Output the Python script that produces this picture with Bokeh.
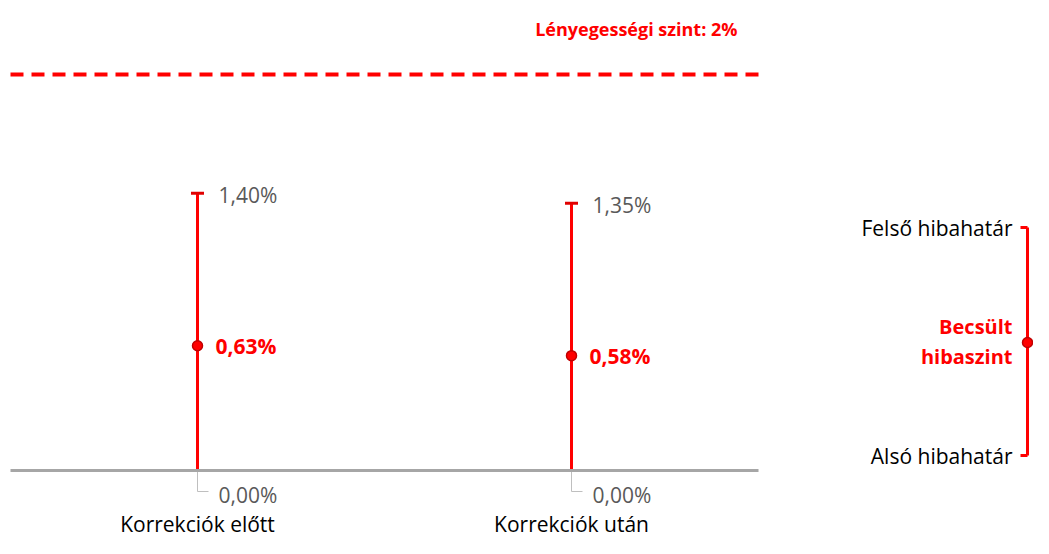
from bokeh.plotting import figure
from bokeh.models import Range1d
from bokeh.core.properties import value
from bokeh.embed import file_html
from bokeh.resources import INLINE

# ---- data ----
categories = ["Korrekciók előtt", "Korrekciók után"]
estimate = [0.63, 0.58]
upper = [1.40, 1.35]
lower = [0.00, 0.00]
threshold = 2.0
threshold_label = "Lényegességi szint: 2%"
legend_upper = "Felső hibahatár"
legend_mid = ["Becsült", "hibaszint"]
legend_lower = "Alsó hibahatár"


def fmt(v):
    return f"{v:.2f}%".replace(".", ",")


# ---- layout / scales ----
W, H = 1033, 538
PX_X = 374.0     # pixels per category unit
PX_Y = 198.0     # pixels per percent
LEFT = 10        # pixel where category axis starts
BASE = 470       # pixel (from top) of 0%

x0 = -LEFT / PX_X
x1 = (W - LEFT) / PX_X
y0 = -(H - BASE) / PX_Y
y1 = BASE / PX_Y


def dx(px):
    return px / PX_X


def dy(px):
    return px / PX_Y


def fx(px):  # figure pixel -> data x
    return x0 + px / PX_X


def fy(py):  # figure pixel from top -> data y
    return y1 - py / PX_Y


p = figure(width=W, height=H, x_range=Range1d(x0, x1), y_range=Range1d(y0, y1),
           output_backend="svg", toolbar_location=None, min_border=0,
           x_axis_type=None, y_axis_type=None, outline_line_color=None,
           background_fill_color="white", border_fill_color="white")
p.grid.visible = False

RED = "#FF0000"
GRAY_TXT = "#595959"
FONT = value("Open Sans")
n = len(categories)
xc = [i + 0.5 for i in range(n)]

# threshold dashed line
p.segment(x0=[0], y0=[threshold], x1=[n], y1=[threshold], line_color=RED,
          line_width=4, line_dash="13 8")
p.text(x=[n], y=[threshold], text=[threshold_label], text_font=FONT,
       text_font_size="18px", text_font_style="bold", text_color=RED,
       text_align="right", text_baseline="middle", x_offset=-21, y_offset=-46)

# error bars
p.segment(x0=xc, y0=lower, x1=xc, y1=upper, line_color=RED, line_width=3)
p.scatter(x=xc + xc, y=upper + lower, marker="dash", size=13,
          line_color="#E00000", line_width=3)
p.scatter(x=xc, y=estimate, marker="circle", size=10, fill_color=RED,
          line_color="#C00000", line_width=1.5)

# leader lines to 0 labels
p.multi_line(xs=[[c, c, c + dx(11)] for c in xc],
             ys=[[l, l - dy(21), l - dy(21)] for l in lower],
             line_color="#BFBFBF", line_width=1)

# baseline
p.segment(x0=[0], y0=[0], x1=[n], y1=[0], line_color="#A6A6A6", line_width=3)

# data labels
p.text(x=xc, y=upper, text=[fmt(v) for v in upper], text_font=FONT,
       text_font_size="21px", text_color=GRAY_TXT, text_align="left",
       text_baseline="middle", x_offset=21, y_offset=2)
p.text(x=xc, y=estimate, text=[fmt(v) for v in estimate], text_font=FONT,
       text_font_size="21px", text_font_style="bold", text_color=RED,
       text_align="left", text_baseline="middle", x_offset=18, y_offset=0)
p.text(x=xc, y=lower, text=[fmt(v) for v in lower], text_font=FONT,
       text_font_size="21px", text_color=GRAY_TXT, text_align="left",
       text_baseline="middle", x_offset=21, y_offset=24)

# category labels
p.text(x=xc, y=[0] * n, text=categories, text_font=FONT,
       text_font_size="21px", text_color="black", text_align="center",
       text_baseline="middle", y_offset=53)

# ---- legend key (right side) ----
lx = fx(1027)
ltop, lbot, lmid = fy(227), fy(455), fy(342)
p.segment(x0=[lx], y0=[ltop], x1=[lx], y1=[lbot], line_color=RED, line_width=3)
p.segment(x0=[lx - dx(7), lx - dx(7)], y0=[ltop, lbot], x1=[lx, lx], y1=[ltop, lbot],
          line_color=RED, line_width=3)
p.scatter(x=[lx], y=[lmid], marker="circle", size=10, fill_color=RED,
          line_color="#C00000", line_width=1.5)
tx = fx(1012)
p.text(x=[tx, tx], y=[ltop, lbot], text=[legend_upper, legend_lower], text_font=FONT,
       text_font_size="21px", text_color="black", text_align="right",
       text_baseline="middle")
p.text(x=[tx, tx], y=[lmid, lmid], text=legend_mid, text_font=FONT,
       text_font_size="20px", text_font_style="bold", text_color=RED,
       text_align="right", text_baseline="middle", y_offset=[-16, 14])

open("out.html", "w").write(file_html(p, INLINE))
